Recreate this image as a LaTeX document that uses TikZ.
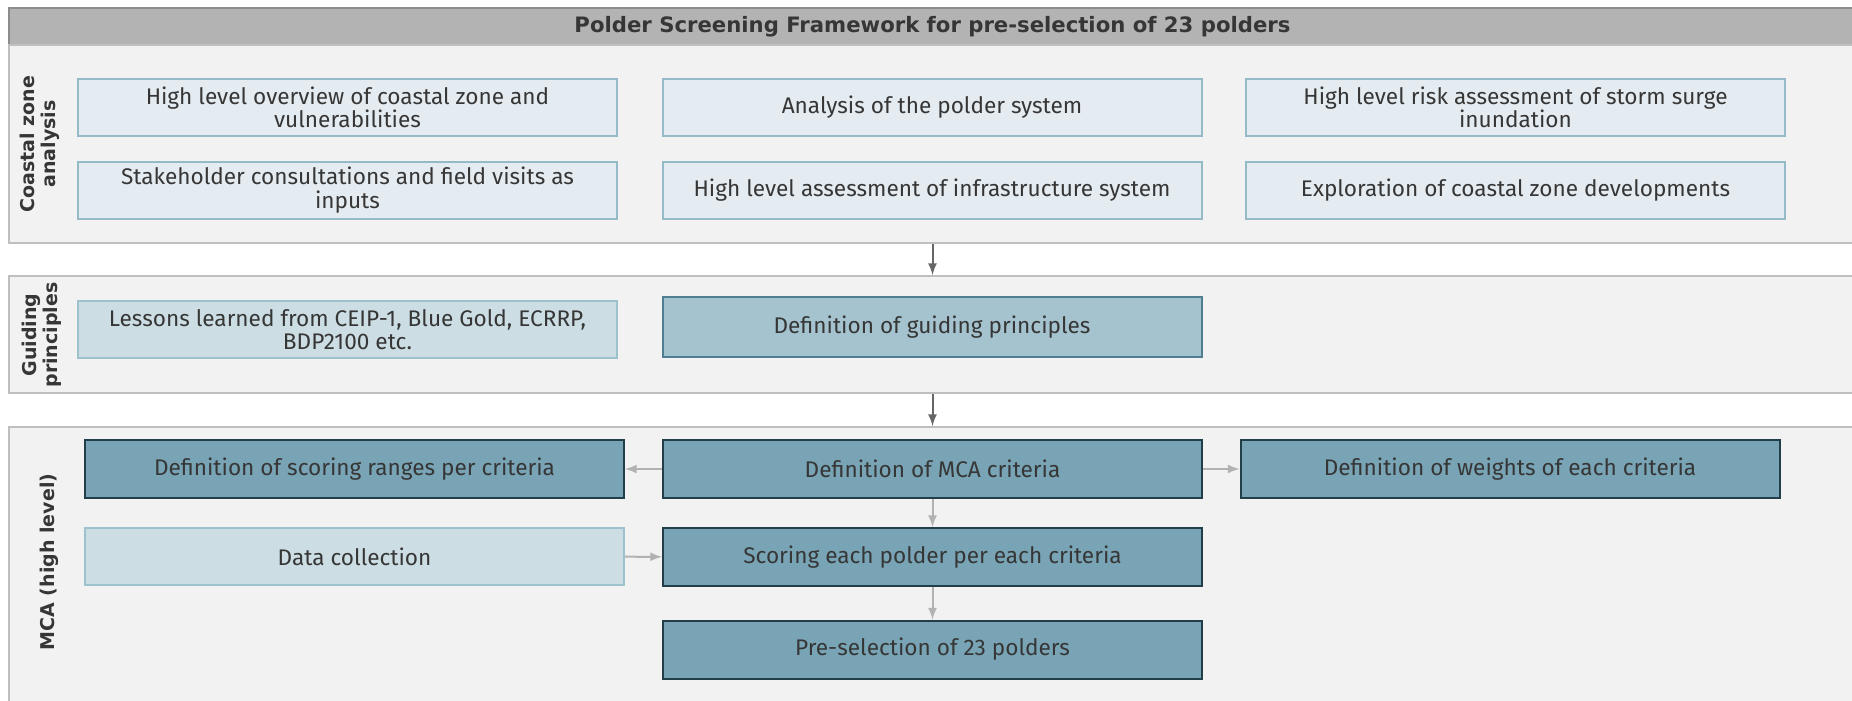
\documentclass[tikz,border=0pt]{standalone}
\usepackage{fontspec}
\setmainfont{Fira Sans}
\newfontfamily\labelfont{DejaVu Sans}
\usetikzlibrary{positioning,arrows,calc}

\definecolor{bandfill}{HTML}{F2F2F2}
\definecolor{bandline}{HTML}{BFBFBF}
\definecolor{headfill}{HTML}{B3B3B3}
\definecolor{headline}{HTML}{8C8C8C}
\definecolor{palefill}{HTML}{E5ECF1}
\definecolor{paleline}{HTML}{93BAC6}
\definecolor{lightfill}{HTML}{CCDEE4}
\definecolor{lightline}{HTML}{9CC2CE}
\definecolor{midfill}{HTML}{A5C3CE}
\definecolor{midline}{HTML}{4E7E90}
\definecolor{darkfill}{HTML}{78A4B5}
\definecolor{darkline}{HTML}{223E48}
\definecolor{txt}{HTML}{363636}

\begin{document}
\begin{tikzpicture}[
x=0.5pt, y=-0.5pt,
band/.style={
  draw=bandline,
  fill=bandfill,
  line width=1pt,
  minimum width=923.5pt,
  inner sep=0pt
  },
side/.style={
  rotate=90,
  align=center,
  text=txt,
  font=\labelfont\bfseries\fontsize{9.5}{10.5}\selectfont
  },
box/.style={
  rectangle,
  minimum width=269.5pt,
  minimum height=28.5pt,
  inner sep=0pt,
  align=center,
  text=txt,
  line width=1pt,
  font=\fontsize{11.3}{11.8}\selectfont
  },
pale/.style={box, draw=paleline, fill=palefill},
light/.style={box, draw=lightline, fill=lightfill},
mid/.style={box, draw=midline, fill=midfill, minimum height=30pt},
dark/.style={box, draw=darkline, fill=darkfill, minimum height=29pt},
flow/.style={->, draw=black!60, line width=1pt},
link/.style={->, draw=black!30, line width=1pt},
>=latex
]
\useasboundingbox (0,0) rectangle (1852,701);

% the three bands and the title bar
\node[band, draw=headline, fill=headfill, minimum height=18.5pt] (head) at (932.5,26.5)
  {\labelfont\bfseries\fontsize{10.6}{12}\selectfont\color{txt}Polder Screening Framework for pre-selection of 23 polders};
\node[band, minimum height=99pt] (coast) at (932.5,144) {};
\node[band, minimum height=58.5pt] (guide) at (932.5,334.5) {};
\node[band, minimum height=139pt] (mca) at (932.5,566) {};

\node[side] (lcoast) at (40,144) {Coastal zone\\analysis};
\node[side] (lguide) at (42,335) {Guiding\\principles};
\node[side] (lmca) at (49,562) {MCA (high level)};

% coastal zone analysis
\node[pale] (overview) at (347.5,107.5) {High level overview of coastal zone and\\vulnerabilities};
\node[pale] (polder) at (932,107.5) {Analysis of the polder system};
\node[pale] (risk) at (1515.5,107.5) {High level risk assessment of storm surge\\inundation};
\node[pale] (stake) at (347.5,190) {Stakeholder consultations and field visits as\\inputs};
\node[pale] (infra) at (932,190) {High level assessment of infrastructure system};
\node[pale] (explore) at (1515.5,190) {Exploration of coastal zone developments};

% guiding principles
\node[light] (lessons) at (347.5,329.5) {Lessons learned from CEIP-1, Blue Gold, ECRRP,\\BDP2100 etc.};
\node[mid] (defgp) at (932,327) {Definition of guiding principles};

% MCA
\node[dark] (ranges) at (354.5,469) {Definition of scoring ranges per criteria};
\node[dark] (criteria) at (932.5,469) {Definition of MCA criteria};
\node[dark] (weights) at (1510,469) {Definition of weights of each criteria};
\node[light] (data) at (354.5,556.5) {Data collection};
\node[dark] (scoring) at (932.5,557) {Scoring each polder per each criteria};
\node[dark] (presel) at (932.5,649.5) {Pre-selection of 23 polders};

\draw[flow] (coast.south) -- (guide.north);
\draw[flow] (guide.south) -- (mca.north);

\draw[link] (criteria) -- (ranges);
\draw[link] (criteria) -- (weights);
\draw[link] (criteria) -- (scoring);
\draw[link] (data) -- (scoring);
\draw[link] (scoring) -- (presel);

\end{tikzpicture}
\end{document}
